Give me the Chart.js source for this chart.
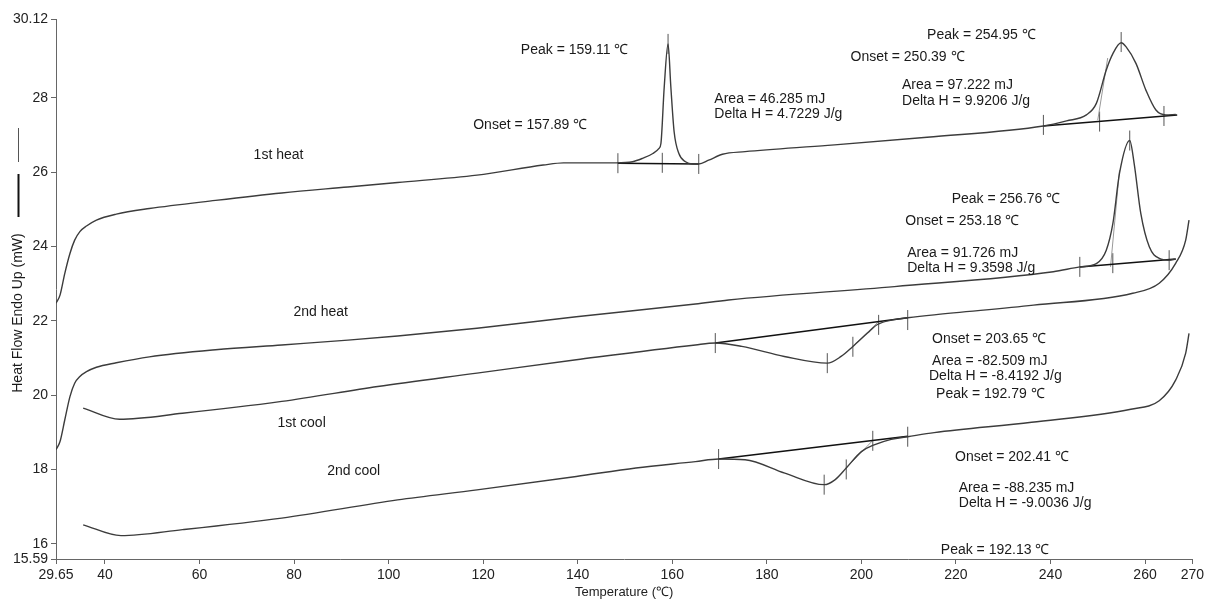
<!DOCTYPE html>
<html>
<head>
<meta charset="utf-8">
<script src="https://cdn.jsdelivr.net/npm/chart.js@4.4.1/dist/chart.umd.min.js"></script>
<style>
  html, body { margin: 0; padding: 0; background: #fff; }
  #wrap { width: 1207px; height: 601px; }
</style>
</head>
<body>
<div id="wrap"><canvas id="dsc"></canvas></div>
<script>
// axis ticks
const xTicks = [29.65, 40, 60, 80, 100, 120, 140, 160, 180, 200, 220, 240, 260, 270]
const yTicks = [15.59, 16, 18, 20, 22, 24, 26, 28, 30.12]

// 1st heat
const heat1T = [29.65, 30.5, 31.5, 32.6, 33.6, 34.7, 36.1, 38.2, 42.4, 49.4, 63.4, 77.4, 91.4, 101.9, 118.7, 132.7, 137.0, 148.1, 151.6, 153.7, 155.9, 157.2, 157.6, 158.3, 159.11, 159.7, 160.4, 161.4, 162.8, 164.3, 165.6, 167.7, 170.6, 175.4, 192.9, 213.9, 238.5, 243.4, 247.6, 249.7, 251.8, 253.2, 254.95, 256.0, 258.1, 260.2, 262.3, 264.4, 266.5]
const heat1Y = [22.47, 22.69, 23.27, 23.81, 24.17, 24.40, 24.55, 24.71, 24.87, 25.02, 25.24, 25.44, 25.60, 25.72, 25.92, 26.19, 26.25, 26.25, 26.28, 26.37, 26.50, 26.64, 26.77, 28.29, 29.45, 28.29, 27.08, 26.50, 26.28, 26.22, 26.22, 26.32, 26.48, 26.55, 26.72, 26.94, 27.24, 27.38, 27.54, 27.85, 28.75, 29.19, 29.48, 29.37, 28.92, 28.20, 27.67, 27.54, 27.55]

// 2nd heat
const heat2T = [29.65, 30.5, 31.5, 32.6, 33.6, 34.7, 36.1, 38.2, 42.4, 49.4, 63.4, 77.4, 91.4, 101.9, 118.7, 139.7, 164.9, 171.9, 207.0, 240.6, 246.2, 249.7, 251.8, 253.2, 254.6, 256.76, 257.7, 259.1, 260.9, 263.0, 265.1, 266.5]
const heat2Y = [18.53, 18.75, 19.33, 19.96, 20.32, 20.50, 20.63, 20.75, 20.87, 21.03, 21.22, 21.35, 21.48, 21.59, 21.80, 22.11, 22.45, 22.56, 22.92, 23.32, 23.45, 23.54, 23.90, 24.62, 25.97, 26.85, 26.23, 24.89, 23.99, 23.68, 23.63, 23.66]

// 1st cool
const cool1T = [35.4, 43.1, 56.4, 77.4, 97.7, 118.7, 139.7, 164.9, 169.1, 174.7, 183.7, 192.79, 195.7, 198.2, 201.3, 203.4, 206.9, 209.8, 215.4, 236.4, 257.4, 263.0, 266.5, 268.6, 269.3]
const cool1Y = [19.65, 19.35, 19.51, 19.83, 20.23, 20.59, 20.95, 21.35, 21.40, 21.31, 21.04, 20.86, 21.04, 21.31, 21.67, 21.90, 22.03, 22.08, 22.16, 22.42, 22.74, 23.01, 23.55, 24.17, 24.71]

// 2nd cool
const cool2T = [35.4, 43.4, 56.4, 77.4, 101.9, 118.7, 139.7, 152.3, 164.9, 169.8, 175.4, 183.8, 192.13, 194.4, 196.8, 200.0, 202.7, 206.3, 209.8, 215.4, 236.0, 257.0, 263.0, 266.5, 268.6, 269.3]
const cool2Y = [16.51, 16.22, 16.38, 16.69, 17.18, 17.45, 17.81, 18.04, 18.21, 18.28, 18.26, 17.90, 17.59, 17.72, 18.04, 18.48, 18.66, 18.81, 18.88, 18.99, 19.27, 19.62, 19.85, 20.41, 21.13, 21.66]

// integration baselines [T1, Y1, T2, Y2]
const baseHeat1a = [148.5, 26.24, 165.6, 26.22]
const baseHeat1b = [238.5, 27.24, 266.8, 27.54]
const baseHeat2 = [246.2, 23.45, 266.5, 23.66]
const baseCool1 = [169.1, 21.40, 209.8, 22.08]
const baseCool2 = [169.8, 18.28, 209.8, 18.89]

// onset tangents
const tanHeat1b = [250.0, 27.40, 252.1, 29.07]
const tanHeat2 = [252.7, 23.45, 254.6, 26.05]
const tanCool1 = [198.2, 21.31, 203.65, 21.98]
const tanCool2 = [196.8, 18.04, 202.41, 18.78]

// limit / onset / peak marks
const markT = [148.5, 157.89, 165.6, 159.11, 238.5, 250.39, 254.95, 264.0, 246.2, 253.18, 256.76, 265.1, 169.1, 192.79, 198.2, 203.65, 209.8, 169.8, 192.13, 196.8, 202.41, 209.8]
const markY = [26.24, 26.25, 26.22, 29.45, 27.27, 27.36, 29.50, 27.51, 23.45, 23.55, 26.85, 23.63, 21.40, 20.86, 21.30, 21.89, 22.02, 18.28, 17.59, 18.00, 18.77, 18.88]

// text notes: [text, T, mW]
const notes = [
  ['Peak = 159.11 ℃', 127.97, 29.28],
  ['Onset = 157.89 ℃', 117.9, 27.27],
  ['Area = 46.285 mJ', 168.9, 27.96],
  ['Delta H = 4.7229 J/g', 168.9, 27.56],
  ['1st heat', 71.45, 26.46],
  ['Peak = 254.95 ℃', 213.9, 29.68],
  ['Onset = 250.39 ℃', 197.7, 29.09],
  ['Area = 97.222 mJ', 208.6, 28.34],
  ['Delta H = 9.9206 J/g', 208.6, 27.91],
  ['Peak = 256.76 ℃', 219.1, 25.27],
  ['Onset = 253.18 ℃', 209.3, 24.68],
  ['Area = 91.726 mJ', 209.7, 23.82],
  ['Delta H = 9.3598 J/g', 209.7, 23.41],
  ['2nd heat', 79.86, 22.24],
  ['Onset = 203.65 ℃', 214.95, 21.51],
  ['Area = -82.509 mJ', 214.95, 20.92],
  ['Delta H = -8.4192 J/g', 214.3, 20.52],
  ['Peak = 192.79 ℃', 215.8, 20.03],
  ['1st cool', 76.5, 19.25],
  ['2nd cool', 87.0, 17.96],
  ['Onset = 202.41 ℃', 219.8, 18.34],
  ['Area = -88.235 mJ', 220.6, 17.51],
  ['Delta H = -9.0036 J/g', 220.6, 17.10],
  ['Peak = 192.13 ℃', 216.8, 15.84]
]

const font = '"Liberation Sans", Arial, sans-serif'
const pts = (xs, ys) => xs.map((x, i) => ({x: x, y: ys[i]}))
const seg = (a) => [{x: a[0], y: a[1]}, {x: a[2], y: a[3]}]

function curve(xs, ys) {
  return {data: pts(xs, ys), showLine: true, pointRadius: 0, borderColor: '#3c3c3c',
    borderWidth: 1.4, cubicInterpolationMode: 'monotone'}
}
function line(a, color, w) {
  return {data: seg(a), showLine: true, pointRadius: 0, borderColor: color, borderWidth: w}
}

const notesPlugin = {
  id: 'notes',
  afterDatasetsDraw(chart) {
    const ctx = chart.ctx
    const xs = chart.scales.x
    const ys = chart.scales.y
    ctx.save()
    ctx.fillStyle = '#1a1a1a'
    ctx.font = '14px ' + font
    ctx.textAlign = 'left'
    ctx.textBaseline = 'middle'
    notes.forEach(n => {
      ctx.fillText(n[0], xs.getPixelForValue(n[1]), ys.getPixelForValue(n[2]))
    })
    // y axis title with line-style keys
    ctx.translate(18, 313)
    ctx.rotate(-Math.PI / 2)
    ctx.textAlign = 'center'
    ctx.font = '14px ' + font
    ctx.fillText('Heat Flow Endo Up (mW)', 0, 0)
    ctx.restore()
    ctx.save()
    ctx.strokeStyle = '#555'
    ctx.lineWidth = 1
    ctx.beginPath(); ctx.moveTo(18.5, 128); ctx.lineTo(18.5, 162); ctx.stroke()
    ctx.strokeStyle = '#111'
    ctx.lineWidth = 2
    ctx.beginPath(); ctx.moveTo(18.5, 174); ctx.lineTo(18.5, 217); ctx.stroke()
    ctx.restore()
  }
}

new Chart(document.getElementById('dsc'), {
  type: 'scatter',
  data: {
    datasets: [
      curve(heat1T, heat1Y),
      curve(heat2T, heat2Y),
      curve(cool1T, cool1Y),
      curve(cool2T, cool2Y),
      line(baseHeat1a, '#111', 1.5),
      line(baseHeat1b, '#111', 1.5),
      line(baseHeat2, '#111', 1.5),
      line(baseCool1, '#111', 1.5),
      line(baseCool2, '#111', 1.5),
      line(tanHeat1b, '#999', 1),
      line(tanHeat2, '#999', 1),
      line(tanCool1, '#999', 1),
      line(tanCool2, '#999', 1),
      {data: pts(markT, markY), showLine: false, pointStyle: 'line', rotation: 90,
        pointRadius: 10, borderColor: '#555', borderWidth: 1}
    ]
  },
  options: {
    responsive: true,
    maintainAspectRatio: false,
    animation: false,
    layout: {padding: {left: 0, right: 8, top: 19, bottom: 0}},
    plugins: {legend: {display: false}, tooltip: {enabled: false}},
    scales: {
      x: {
        type: 'linear', min: 29.65, max: 270,
        afterBuildTicks: (s) => { s.ticks = xTicks.map(v => ({value: v})) },
        afterFit: (s) => { s.height = 42 },
        ticks: {color: '#222', font: {family: font, size: 14}, padding: 3, maxRotation: 0,
          autoSkip: false, callback: (v) => String(v)},
        grid: {drawOnChartArea: false, drawTicks: true, tickLength: 5, color: '#666'},
        border: {display: true, color: '#666', width: 1},
        title: {display: true, text: 'Temperature (℃)', color: '#222',
          font: {family: font, size: 13}, padding: {top: 0, bottom: 1}}
      },
      y: {
        type: 'linear', min: 15.59, max: 30.12,
        afterBuildTicks: (s) => { s.ticks = yTicks.map(v => ({value: v})) },
        afterFit: (s) => { s.width = 56 },
        ticks: {color: '#222', font: {family: font, size: 14}, padding: 3,
          autoSkip: false, callback: (v) => String(v)},
        grid: {drawOnChartArea: false, drawTicks: true, tickLength: 5, color: '#666'},
        border: {display: true, color: '#666', width: 1}
      }
    }
  },
  plugins: [notesPlugin]
})
</script>
</body>
</html>
